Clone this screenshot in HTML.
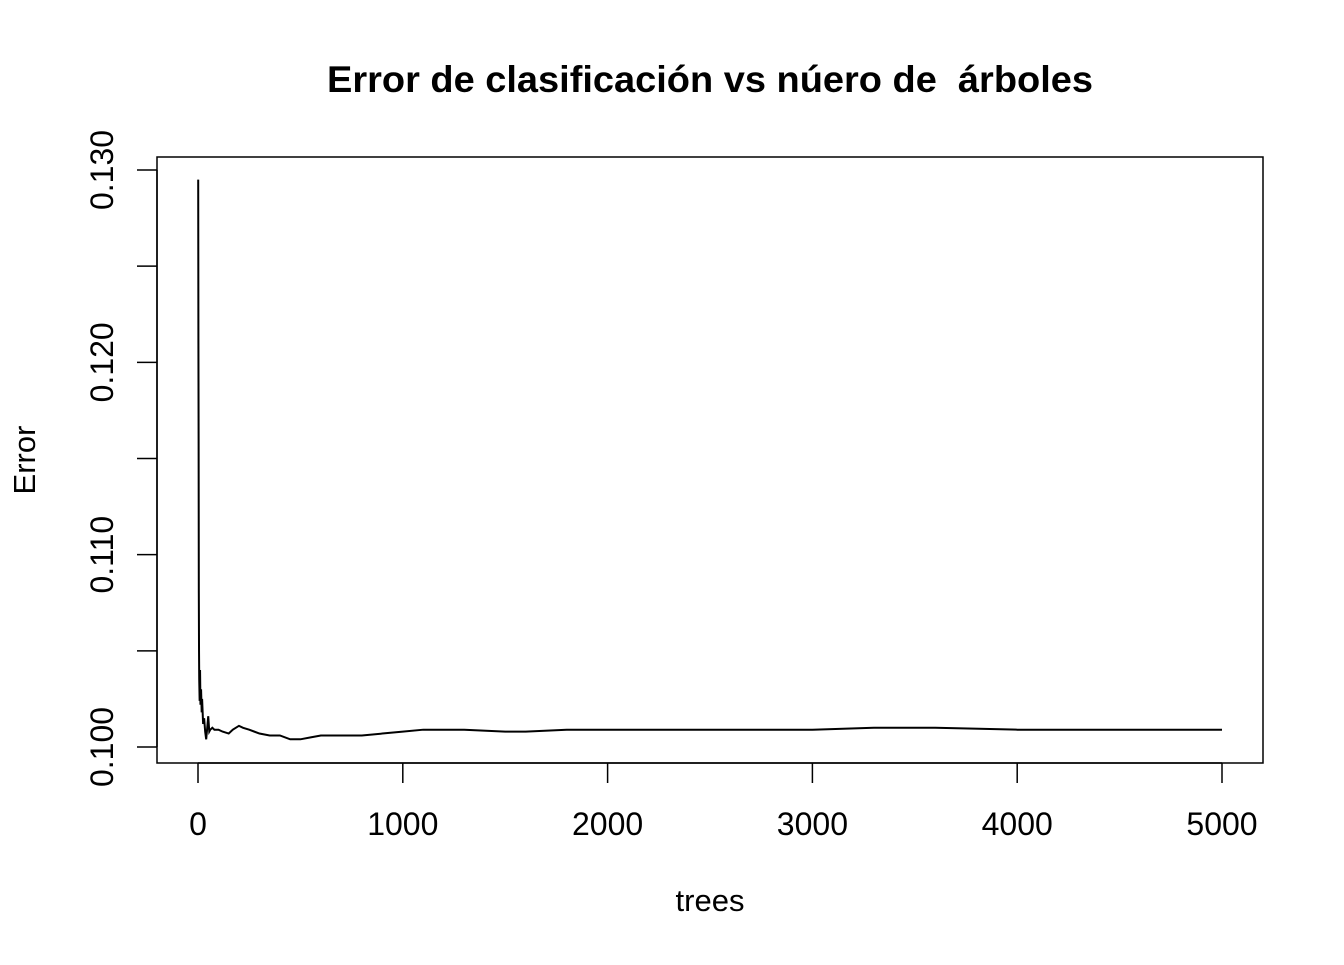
<!DOCTYPE html>
<html><head><meta charset="utf-8"><style>
body{margin:0;background:#fff;}
svg text{font-family:"Liberation Sans",Arial,sans-serif;fill:#000;white-space:pre;}
</style></head><body>
<svg width="1344" height="960">
<text x="710" y="92" text-anchor="middle" font-size="37" font-weight="bold" textLength="766" lengthAdjust="spacingAndGlyphs">Error de clasificación vs núero de  árboles</text>
<rect x="157" y="157" width="1106" height="606" fill="none" stroke="#000" stroke-width="1.5"/>
<g id="xaxis"></g>
<g id="yaxis"></g>
<text x="710" y="911" text-anchor="middle" font-size="31">trees</text>
<text transform="translate(35,460) rotate(-90)" text-anchor="middle" font-size="31">Error</text>
<path id="line" fill="none" stroke="#000" stroke-width="2"/>
</svg>
<script>
const trees=[1,2,3,4,5,6,8,10,12,15,18,20,25,30,35,40,45,50,55,60,70,80,100,120,150,170,200,220,250,300,350,400,450,500,550,600,700,800,900,1000,1100,1300,1500,1600,1800,2000,2500,3000,3300,3600,4000,4500,5000];
const errs=[0.1295,0.1210,0.1160,0.1080,0.1050,0.1035,0.1024,0.1040,0.1022,0.1030,0.1018,0.1025,0.1012,0.1015,0.1008,0.1004,0.1010,0.1016,0.1008,0.1009,0.1010,0.1009,0.1009,0.1008,0.1007,0.1009,0.1011,0.1010,0.1009,0.1007,0.1006,0.1006,0.1004,0.1004,0.1005,0.1006,0.1006,0.1006,0.1007,0.1008,0.1009,0.1009,0.1008,0.1008,0.1009,0.1009,0.1009,0.1009,0.1010,0.1010,0.1009,0.1009,0.1009];
const xTicks=[0,1000,2000,3000,4000,5000];
const yTicks=[0.100,0.105,0.110,0.115,0.120,0.125,0.130];
const yLabels=["0.100","","0.110","","0.120","","0.130"];
const X=v=>198+v*(1222-198)/5000;
const Y=v=>747-(v-0.1)*(747-170)/0.03;
const NS='http://www.w3.org/2000/svg';
const xa=document.getElementById('xaxis'),ya=document.getElementById('yaxis');
function mk(tag,attrs,parent){const e=document.createElementNS(NS,tag);for(const k in attrs)e.setAttribute(k,attrs[k]);parent.appendChild(e);return e;}
mk('line',{x1:X(0),x2:X(5000),y1:763,y2:763,stroke:'#000','stroke-width':1.5},xa);
xTicks.forEach(t=>{
 const l=mk('line',{x1:X(t),x2:X(t),y1:763,y2:783,stroke:'#000','stroke-width':1.5},xa);
 
 
 const tx=mk('text',{x:X(t),y:835,'text-anchor':'middle','font-size':32},xa);
 tx.textContent=t;
 
 
});
mk('line',{x1:157,x2:157,y1:Y(0.1),y2:Y(0.13),stroke:'#000','stroke-width':1.5},ya);
yTicks.forEach((t,i)=>{
 const l=mk('line',{x1:137,x2:157,y1:Y(t),y2:Y(t),stroke:'#000','stroke-width':1.5},ya);
 
 
 if(yLabels[i]){
  const tx=mk('text',{transform:`translate(113,${Y(t)}) rotate(-90)`,'text-anchor':'middle','font-size':32},ya);
  tx.textContent=yLabels[i];
  
  
 }
});
document.getElementById('line').setAttribute('d',trees.map((t,i)=>(i?'L':'M')+X(t).toFixed(2)+','+Y(errs[i]).toFixed(2)).join(''));
</script>
</body></html>
